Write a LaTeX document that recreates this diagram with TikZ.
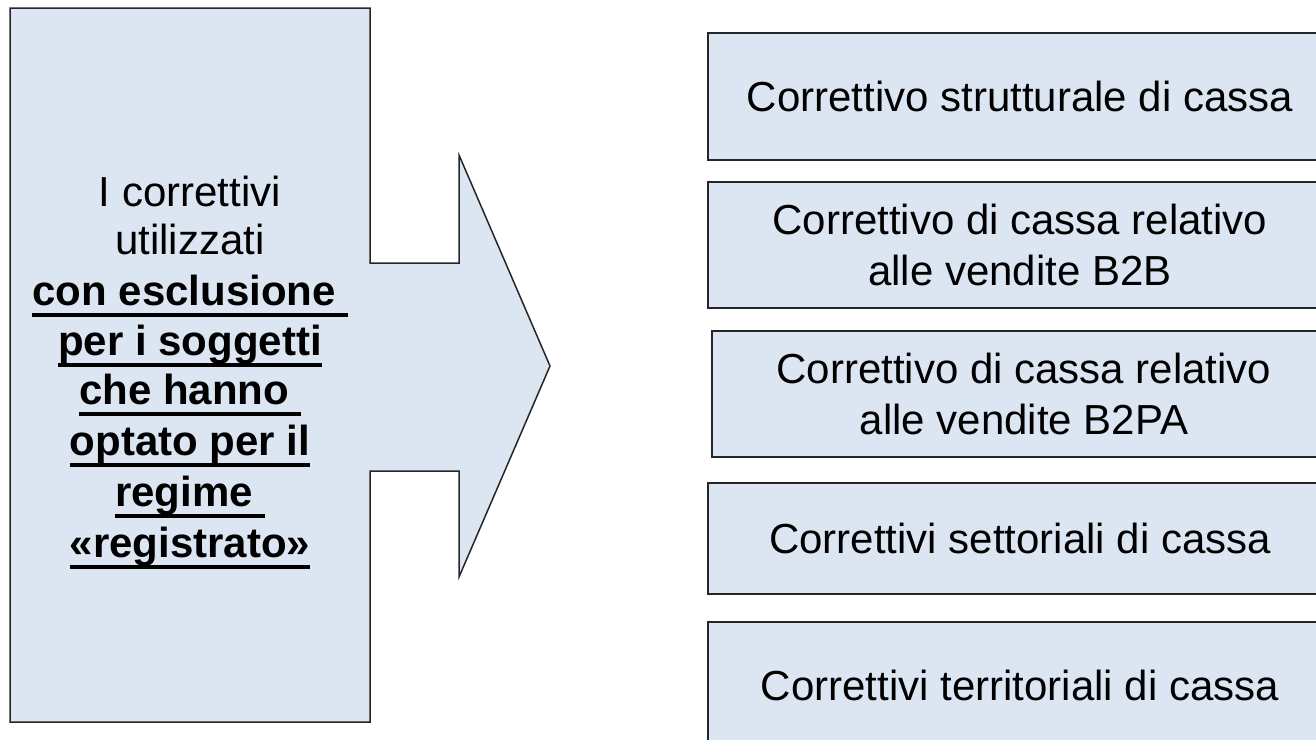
\documentclass[tikz,border=0pt]{standalone}
\usepackage{fontspec}
\setmainfont{Liberation Sans}
\definecolor{boxfill}{HTML}{DCE6F2}
\definecolor{boxline}{HTML}{262626}
\newcommand{\ulline}[1]{\setbox0=\hbox{#1}\rlap{\raisebox{-11.5pt}{\rule{\wd0}{3.5pt}}}\box0}
\tikzset{
  panel/.style={draw=boxline, line width=1.5pt, fill=boxfill, line join=miter},
  rbox/.style={panel, rectangle, minimum width=624pt, inner sep=0pt, align=center,
               font=\fontsize{42}{51}\selectfont},
  ltext/.style={anchor=base, inner sep=0pt, font=\fontsize{42}{50}\selectfont},
  btext/.style={anchor=base, inner sep=0pt, font=\fontsize{42}{50}\selectfont\bfseries}
}
\begin{document}
\begin{tikzpicture}[x=1pt,y=-1pt]
\useasboundingbox (0,0) rectangle (1316,739);
\clip (0,0) rectangle (1316,739);
% left callout with arrow
\draw[panel] (10,8) -- (370,8) -- (370,263) -- (459,263) -- (459,155) -- (550,366)
  -- (459,577) -- (459,471) -- (370,471) -- (370,722) -- (10,722) -- cycle;
\node[ltext] (l1) at (190,206) {I correttivi};
\node[ltext] (l2) at (190,254) {utilizzati};
\node[btext] (l3) at (190,305) {\ulline{con esclusione\ }};
\node[btext] (l4) at (190,355) {\ulline{per i soggetti}};
\node[btext] (l5) at (190,404) {\ulline{che hanno\ }};
\node[btext] (l6) at (190,455) {\ulline{optato per il}};
\node[btext] (l7) at (190,506) {\ulline{regime\ }};
\node[btext] (l8) at (190,557) {\ulline{«registrato»}};
% right boxes
\node[rbox, minimum height=127pt] (r1) at (1020,96.5) {Correttivo strutturale di cassa};
\node[rbox, minimum height=126pt] (r2) at (1020,245) {Correttivo di cassa relativo\\alle vendite B2B};
\node[rbox, minimum height=126pt] (r3) at (1024,394) {Correttivo di cassa relativo\\alle vendite B2PA};
\node[rbox, minimum height=111pt] (r4) at (1020,538.5) {Correttivi settoriali di cassa};
\node[rbox, minimum height=126pt] (r5) at (1020,685) {Correttivi territoriali di cassa};
\end{tikzpicture}
\end{document}
